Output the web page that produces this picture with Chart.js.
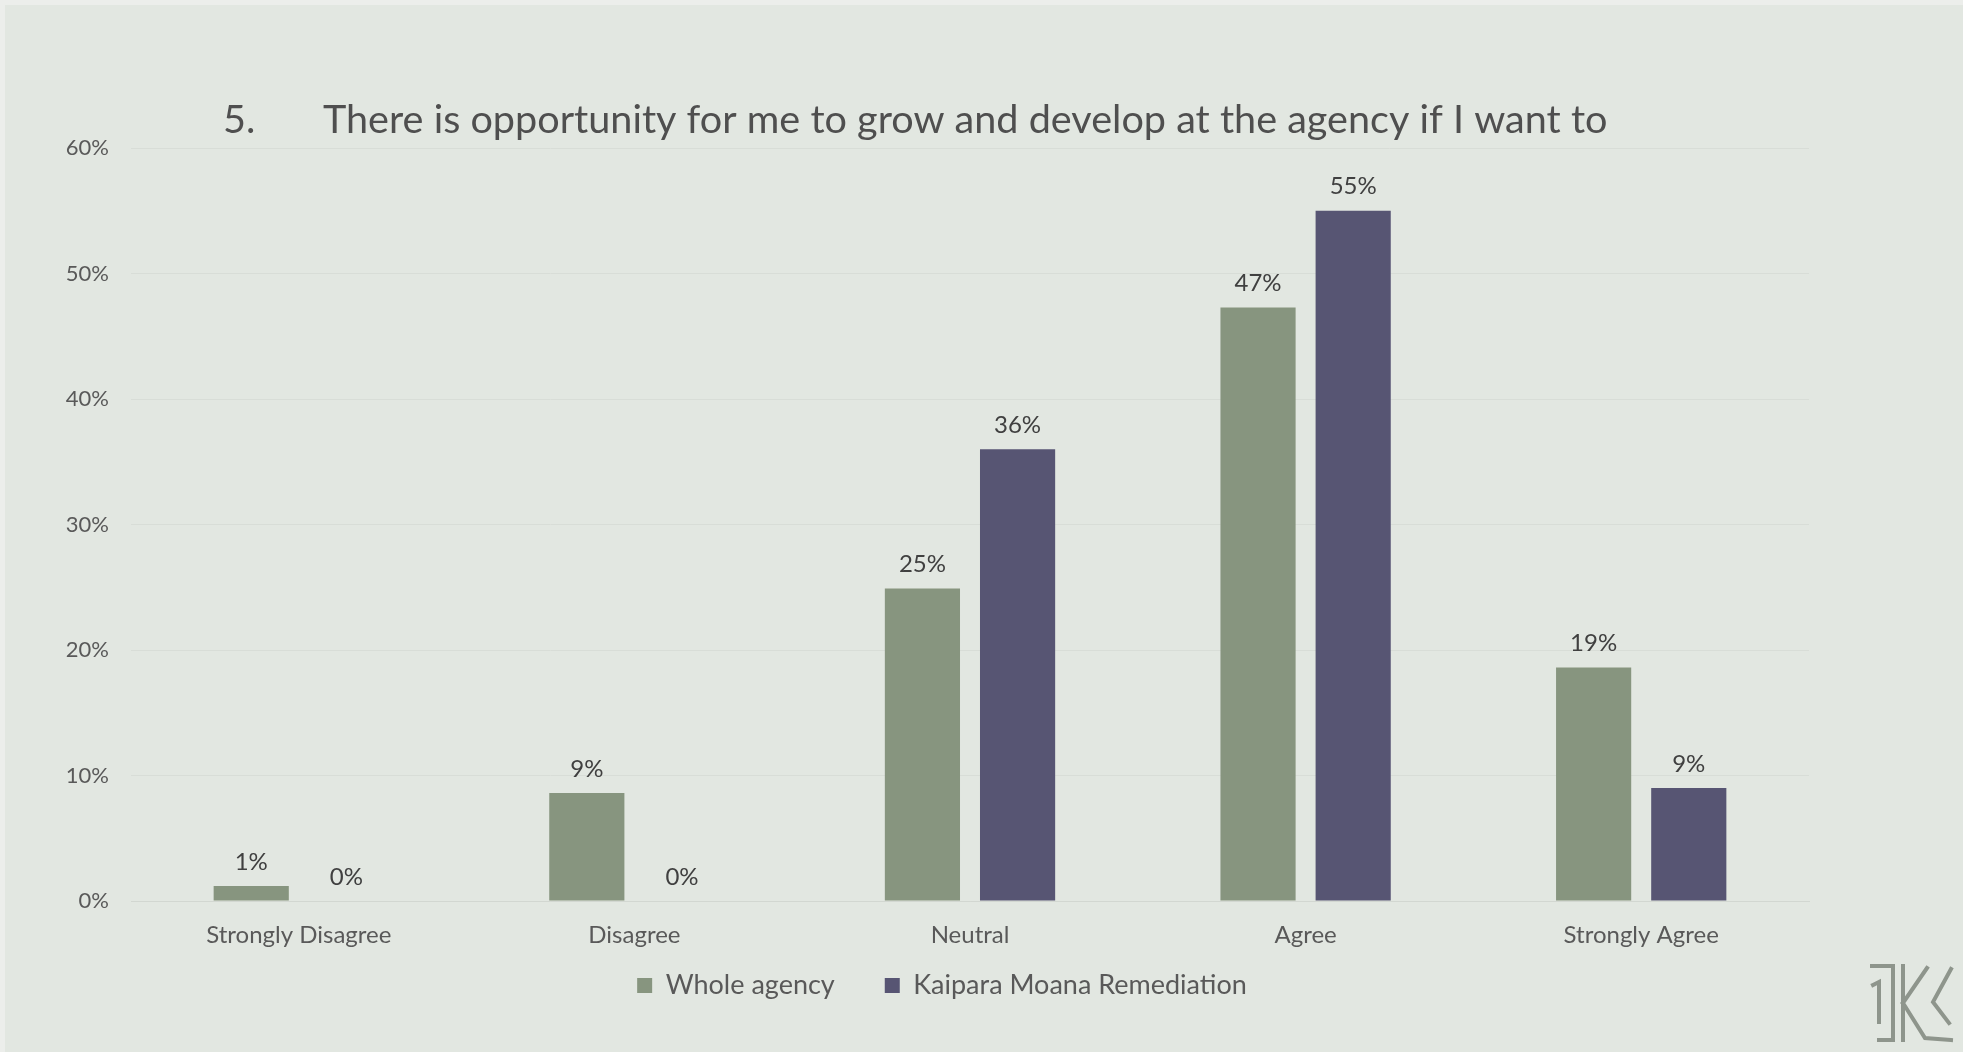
<!DOCTYPE html>
<html>
<head>
<meta charset="utf-8">
<script src="https://cdn.jsdelivr.net/npm/chart.js@4.4.0/dist/chart.umd.min.js"></script>
<style>
  html, body { margin: 0; padding: 0; background: #eceeeb; }
  #wrap { position: absolute; left: 5px; top: 5px; width: 1958px; height: 1047px; background: #e2e7e1; }
  canvas { display: block; }
</style>
</head>
<body>
<div id="wrap"><canvas id="chart" width="1958" height="1047"></canvas></div>
<script>
// ─── DATA ────────────────────────────────────────────────────────────────────
const categories   = ['Strongly Disagree', 'Disagree', 'Neutral', 'Agree', 'Strongly Agree'];
const wholeAgency  = [1.2, 8.6, 24.9, 47.3, 18.6];
const kaipara      = [0, 0, 36.0, 55.0, 9.0];
const seriesNames  = ['Whole agency', 'Kaipara Moana Remediation'];
const yTicks       = [0, 10, 20, 30, 40, 50, 60];
const titleNumber  = '5.';
const titleText    = 'There is opportunity for me to grow and develop at the agency if I want to';

const FONT    = 'Lato, "Open Sans", sans-serif';
const green   = '#87957f';
const purple  = '#575573';
const textCol = '#595959';

// ─── PLUGINS ─────────────────────────────────────────────────────────────────
const valueLabels = {
  id: 'valueLabels',
  afterDatasetsDraw(chart) {
    const ctx = chart.ctx;
    ctx.save();
    ctx.font = '24px ' + FONT;
    ctx.fillStyle = '#404040';
    ctx.textAlign = 'center';
    ctx.textBaseline = 'middle';
    chart.data.datasets.forEach((ds, i) => {
      chart.getDatasetMeta(i).data.forEach((bar, j) => {
        ctx.fillText(Math.round(ds.data[j]) + '%', bar.x, bar.y - 24);
      });
    });
    ctx.restore();
  }
};

// legend sits closer to the axis labels than chart.js would put it
const legendNudge = {
  id: 'legendNudge',
  afterLayout(chart) {
    const lg = chart.legend;
    lg.top -= 31; lg.bottom -= 31;
    lg.left += 10; lg.right += 10;
  }
};

const titleAndLogo = {
  id: 'titleAndLogo',
  afterDraw(chart) {
    const ctx = chart.ctx;
    ctx.save();
    ctx.font = '39.6px ' + FONT;
    ctx.fillStyle = '#4f4f4f';
    ctx.textBaseline = 'middle';
    ctx.fillText(titleNumber, 218, 115);
    ctx.fillText(titleText, 318, 115);

    // logo, bottom right
    ctx.strokeStyle = '#8e958c';
    ctx.lineWidth = 4;
    ctx.lineCap = 'square';
    ctx.beginPath();
    ctx.moveTo(1867, 961); ctx.lineTo(1888, 961); ctx.lineTo(1888, 1035); ctx.lineTo(1874, 1035);
    ctx.moveTo(1868, 980); ctx.lineTo(1874, 977); ctx.lineTo(1874, 1017);
    ctx.moveTo(1898, 961); ctx.lineTo(1898, 1035);
    ctx.moveTo(1898, 998); ctx.lineTo(1920, 1033); ctx.lineTo(1946, 1035);
    ctx.moveTo(1898, 998); ctx.lineTo(1922, 963);
    ctx.moveTo(1946, 964); ctx.lineTo(1928, 997); ctx.lineTo(1944, 1018);
    ctx.stroke();
    ctx.restore();
  }
};

// ─── CHART ───────────────────────────────────────────────────────────────────
const ctx = document.getElementById('chart').getContext('2d');
new Chart(ctx, {
  type: 'bar',
  data: {
    labels: categories,
    datasets: [
      { label: seriesNames[0], data: wholeAgency, backgroundColor: green, borderWidth: 0 },
      { label: seriesNames[1], data: kaipara, backgroundColor: purple, borderWidth: 0 }
    ]
  },
  options: {
    responsive: false,
    animation: false,
    categoryPercentage: 0.567,
    barPercentage: 0.79,
    layout: { padding: { left: 50, top: 143, right: 154, bottom: 12 } },
    plugins: {
      legend: {
        position: 'bottom',
        labels: {
          font: { family: FONT, size: 27 },
          color: textCol,
          boxWidth: 15,
          boxHeight: 15,
          padding: 50
        }
      },
      tooltip: { enabled: false }
    },
    scales: {
      x: {
        grid: { display: false },
        border: { color: '#d2d7d1' },
        ticks: { font: { family: FONT, size: 24 }, color: textCol, padding: 12 },
        afterFit: (s) => { s.height = 52; }
      },
      y: {
        min: yTicks[0],
        max: yTicks[yTicks.length - 1],
        grid: { color: '#d8ddd7', drawTicks: false },
        border: { display: false },
        ticks: { stepSize: yTicks[1] - yTicks[0], font: { family: FONT, size: 22 }, color: textCol, padding: 22, callback: v => v + '%' },
        afterFit: (s) => { s.width = 76; }
      }
    }
  },
  plugins: [valueLabels, legendNudge, titleAndLogo]
});
</script>
</body>
</html>
